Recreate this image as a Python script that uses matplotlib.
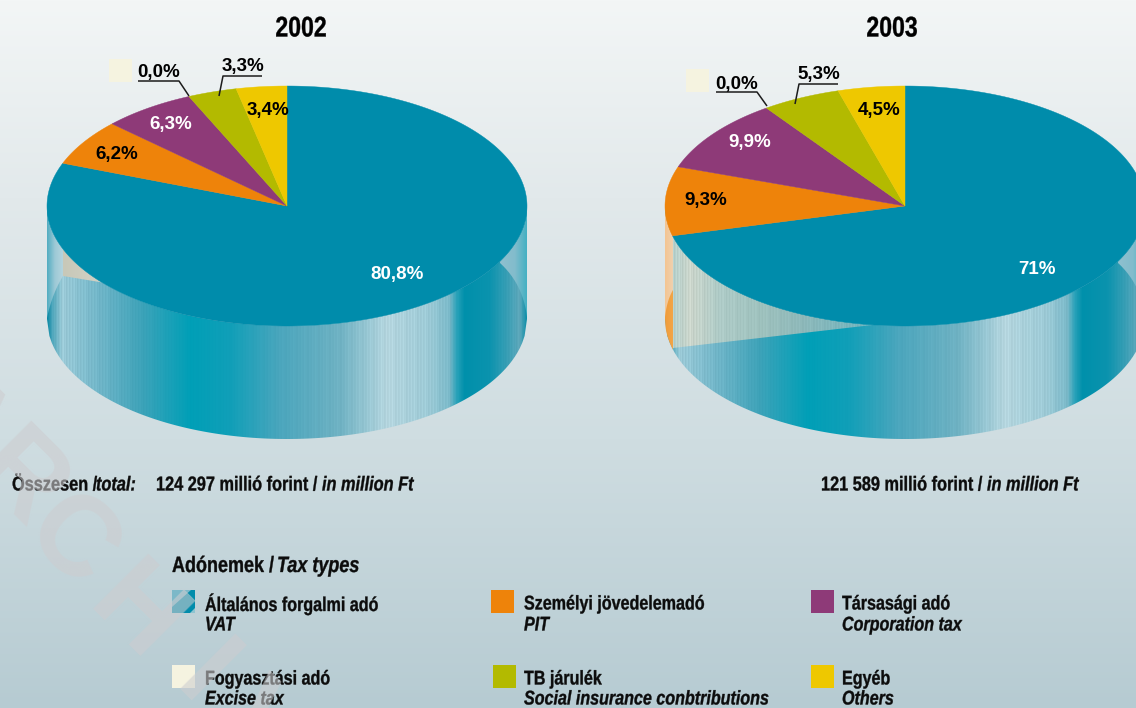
import numpy as np
import matplotlib
matplotlib.use("Agg")
import matplotlib.pyplot as plt
from matplotlib.colors import to_rgb
from matplotlib.patches import Polygon
from matplotlib.patheffects import AbstractPathEffect
from matplotlib.text import Text
from matplotlib.transforms import Affine2D, Bbox

# ---------- data ----------
years = ["2002", "2003"]
shares_2002 = [80.8, 6.2, 6.3, 3.3, 3.4]      # VAT, PIT, Corporation, Social, Others
shares_2003 = [71.0, 9.3, 9.9, 5.3, 4.5]
labels_2002 = ["80,8%", "6,2%", "6,3%", "3,3%", "3,4%"]
labels_2003 = ["71%", "9,3%", "9,9%", "5,3%", "4,5%"]
excise_label = "0,0%"
slice_colors = ["#008cab", "#ee830a", "#8e3a78", "#b3ba00", "#eec800"]
excise_color = "#f5f3e0"
label_colors = ["white", "black", "white", "black", "black"]
legend_hu = ["Általános forgalmi adó", "Személyi jövedelemadó", "Társasági adó",
             "Fogyasztási adó", "TB járulék", "Egyéb"]
legend_en = ["VAT", "PIT", "Corporation tax", "Excise tax",
             "Social insurance conbtributions", "Others"]
legend_colors = ["#008cab", "#ee830a", "#8e3a78", excise_color, "#b3ba00", "#eec800"]
watermark_letters = ["A", "R", "C", "H", "I", "V"]

SANS = "Liberation Sans"
SX = 0.81

W, H = 1136, 708
fig = plt.figure(figsize=(W / 100, H / 100), dpi=100)
ax = fig.add_axes([0, 0, 1, 1])
ax.axis("off")


class Squeeze(AbstractPathEffect):
    """Draw a text condensed horizontally about its anchor, slightly emboldened."""
    def __init__(self, text, sx, bold=0.25):
        super().__init__()
        self.text, self.sx, self.bold = text, sx, bold

    def draw_path(self, renderer, gc, tpath, affine, rgbFace=None):
        x, _ = self.text.get_transform().transform(self.text.get_unitless_position())
        t = affine + Affine2D().translate(-x, 0).scale(self.sx, 1).translate(x, 0)
        g = renderer.new_gc()
        g.copy_properties(gc)
        g.set_foreground(rgbFace)
        g.set_linewidth(self.bold)
        renderer.draw_path(g, tpath, t, rgbFace)
        g.restore()


class NarrowText(Text):
    def __init__(self, *a, **k):
        self.sx = k.pop("sx", SX)
        super().__init__(*a, **k)
        self.set_path_effects([Squeeze(self, self.sx)])

    def get_window_extent(self, renderer=None, dpi=None):
        bb = super().get_window_extent(renderer, dpi)
        x, _ = self.get_transform().transform(self.get_unitless_position())
        return Bbox([[x + (bb.x0 - x) * self.sx, bb.y0], [x + (bb.x1 - x) * self.sx, bb.y1]])


def ntext(x, y, s, **k):
    t = NarrowText(x, y, s, **k)
    ax.add_artist(t)
    return t


def lerp(xs, stops):
    px = [s[0] for s in stops]
    cols = np.array([to_rgb(s[1]) for s in stops])
    return np.stack([np.interp(xs, px, cols[:, i]) for i in range(3)], axis=1)


def grad(poly, stops, x0, x1, stripes=0.0, z=2):
    """Horizontal gradient clipped to polygon."""
    xs = np.arange(x0, x1 + 1, 1.0)
    col = lerp(xs, stops)
    if stripes:
        pat = (((xs.astype(int) * 37) % 11) / 10 - 0.5) * stripes
        lum = np.clip(col.mean(axis=1, keepdims=True) - 0.42, 0, 1)
        col = np.clip(col + pat[:, None] * lum * 2.2, 0, 1)
    im = ax.imshow(col[None, :, :], extent=(x0, x1, 708, 0), aspect="auto", zorder=z,
                   interpolation="bilinear")
    p = Polygon(poly, closed=True, transform=ax.transData, fc="none", ec="none")
    ax.add_patch(p)
    im.set_clip_path(p)


def bez(a, c, b, n=30):
    t = np.linspace(0, 1, n)[:, None]
    a, b, c = map(np.array, (a, b, c))
    return (1 - t) ** 2 * a + 2 * t * (1 - t) * c + t ** 2 * b


# background
bg = np.linspace(0, 1, 708)
stops_bg = np.array([to_rgb("#f3f6f6"), to_rgb("#e2e9eb"), to_rgb("#cfdde1"), to_rgb("#b6cbd2")])
bgc = np.stack([np.interp(bg, [0, .28, .62, 1], stops_bg[:, i]) for i in range(3)], axis=1)
ax.imshow(bgc[:, None, :], extent=(0, W, H, 0), aspect="auto", zorder=0)

RX, RY, DEPTH, CY = 240, 120, 113, 206
WALL = [(0, "#0a88a4"), (5, "#4ea6bb"), (15, "#9ccbd8"), (53, "#6fb5c8"), (93, "#3fa3b9"),
        (143, "#009fb7"), (183, "#109fb8"), (233, "#4ba6bd"), (293, "#6fb2c3"), (340, "#b5d6df"),
        (383, "#9ccad6"), (403, "#7ab9c9"), (410, "#2aa2b9"), (418, "#0090ab"), (443, "#0b93ae"),
        (463, "#3fa0b6"), (473, "#5fa9bc"), (480, "#0f8fa8")]


def ell(cx, cy, t_deg):
    t = np.radians(t_deg)
    return np.column_stack([cx + RX * np.sin(t), cy - RY * np.cos(t)])


def front(cx, cy, x_from, x_to, n=80):
    xs = np.linspace(x_from, x_to, n)
    return np.column_stack([xs, cy + RY * np.sqrt(np.clip(1 - ((xs - cx) / RX) ** 2, 0, 1))])


def pie(cx, shares, texts, pos):
    x0 = cx - RX
    x1 = cx + RX
    wall_stops = [(x0 + a, c) for a, c in WALL]
    poly = np.vstack([front(cx, CY, x0, x1, 200), front(cx, CY + DEPTH, x1, x0, 200)])
    grad(poly, wall_stops, x0, x1, stripes=0.09, z=2)
    a = (cx + 213, CY + 57)
    b = (cx + 240, CY + 111)
    right = np.vstack([front(cx, CY, a[0], x1, 30), [(x1, b[1])],
                       bez(b, (cx + 236, CY + 78), a)])
    grad(right, [(a[0], "#8fc0cf"), (a[0] + 15, "#82bccc"), (x1, "#45b0c3")], a[0], x1, z=3)
    start = 0.0
    for v, col in zip(shares, slice_colors):
        end = start + v * 3.6
        ts = np.linspace(start, end, max(int(v * 6), 6))
        ax.add_patch(Polygon(np.vstack([[cx, CY], ell(cx, CY, ts)]), closed=True,
                             fc=col, ec=col, lw=0.3, zorder=6))
        start = end
    for t, p, c in zip(texts, pos, label_colors):
        ax.text(p[0], p[1], t, ha="center", va="center", color=c, family=SANS,
                weight="bold", fontsize=13.5, zorder=8)


# 2002 pie
cx1 = 287
p1 = [(397, 274), (117, 154), (171, 125), (243, 66), (268, 111)]
cxl = cx1 - RX
left = np.vstack([[(cxl, CY)], [(cxl, 318)], bez((cxl, 318), (cxl + 5, 294), (63, 276)),
                  front(cx1, CY, 63, cxl, 30)])
pie(cx1, shares_2002, labels_2002, p1)
grad(left, [(47, "#55aec2"), (55, "#9dc9d6"), (63, "#b4d4dd")], 47, 63, z=3)
beige = np.vstack([front(cx1, CY, 63, 102, 30), [(63, 276)]])
grad(beige, [(63, "#c8c8b8"), (102, "#d0d2c6")], 63, 102, z=3)

# 2003 pie
cx2 = 905
p2 = [(1037, 270), (706, 201), (750, 143), (819, 75), (879, 110)]
pie(cx2, shares_2003, labels_2003, p2)
x2l = cx2 - RX
orange = np.vstack([front(cx2, CY, x2l, 673, 20), [(673, 348)], front(cx2, CY + DEPTH, 673, x2l, 20)])
grad(orange, [(665, "#ef9c3a"), (673, "#f2a548")], 665, 673, z=3)
orange_up = np.vstack([front(cx2, CY, x2l, 673, 20), bez((673, 290), (667, 300), (x2l, 317))])
grad(orange_up, [(665, "#f5c592"), (673, "#eed0ae")], 665, 673, z=4)
grey = np.vstack([front(cx2, CY, 673, 873, 60), [(673, 348)]])
grad(grey, [(673, "#b5d0cc"), (690, "#ccd6cc"), (720, "#aecbc7"), (760, "#9fc2be"),
            (800, "#8fb9ba"), (873, "#6fb5c0")], 673, 873, stripes=0.09, z=3)

ax.set_xlim(0, W)
ax.set_ylim(H, 0)

# excise markers and leaders
line = dict(color="#1c1c1c", lw=1.1, zorder=9, solid_capstyle="butt")
for sq, lab, lx, ly in [((109, 59), excise_label, 159, 73), ((686, 69), excise_label, 737, 84)]:
    ax.add_patch(Polygon([(sq[0], sq[1]), (sq[0] + 23, sq[1]), (sq[0] + 23, sq[1] + 23), (sq[0], sq[1] + 23)],
                         closed=True, fc=excise_color, ec="none", zorder=7))
    ax.text(lx, ly, lab, ha="center", va="center", family=SANS, weight="bold", fontsize=13.5, zorder=8)
ax.plot([138, 179, 189], [81, 81, 96], **line)
ax.plot([262, 223, 219], [76, 76, 96], **line)
ax.plot([716, 757, 767], [92, 92, 106], **line)
ax.plot([838, 799, 795], [84, 84, 104], **line)

# titles
for t, x in zip(years, [301, 892]):
    ntext(x, 29.5, t, ha="center", va="center", family=SANS, weight="bold", fontsize=20.5, zorder=9)

tx = dict(family=SANS, weight="bold", va="center", color="#0c0c0c", zorder=9)
it = dict(tx, style="italic")
FS = 14.5
ntext(12, 485, "Összesen /", fontsize=FS, **tx)
ntext(96, 485, "total:", fontsize=FS, **it)
ntext(156, 485, "124 297 millió forint /", fontsize=FS, **tx)
ntext(322, 485, "in million Ft", fontsize=FS, **it)
ntext(821, 485, "121 589 millió forint /", fontsize=FS, **tx)
ntext(987, 485, "in million Ft", fontsize=FS, **it)
ntext(172, 566.5, "Adónemek /", fontsize=16, **tx)
ntext(277, 566.5, "Tax types", fontsize=16, **it)

# legend
swx = [172, 491, 811, 172, 493, 811]
swy = [590, 590, 590, 665, 665, 665]
txx = [205, 524, 842, 205, 524, 842]
y1 = [604, 604, 604, 679, 679, 679]
y2 = [625, 625, 625, 699, 699, 699]
for i in range(6):
    x, y = swx[i], swy[i]
    ax.add_patch(Polygon([(x, y), (x + 23, y), (x + 23, y + 23), (x, y + 23)], closed=True,
                         fc=legend_colors[i], ec="none", zorder=5))
    ntext(txx[i], y1[i], legend_hu[i], fontsize=14.3, **tx)
    ntext(txx[i], y2[i], legend_en[i], fontsize=14.3, **it)
x, y = swx[0], swy[0]
ax.add_patch(Polygon([(x, y), (x + 19, y), (x, y + 17)], closed=True, fc="#7cb8c8", ec="none", zorder=6))
ax.add_patch(Polygon([(x + 23, y + 18), (x + 23, y + 23), (x + 18, y + 23)], closed=True, fc="#8fc4d0", ec="none", zorder=6))

# watermark, letter by letter
wm_x = [-30, 25, 78, 142, 212, 268]
wm_y = [415, 475, 535, 608, 670, 722]
for ch, x, y in zip(watermark_letters, wm_x, wm_y):
    ax.text(x, y, ch, rotation=-45, rotation_mode="anchor", ha="center", va="center_baseline",
            family=SANS, weight="bold", fontsize=82, color="#cdcdd0", alpha=0.58, zorder=20, clip_on=True)

fig.savefig("out.png", dpi=100)
